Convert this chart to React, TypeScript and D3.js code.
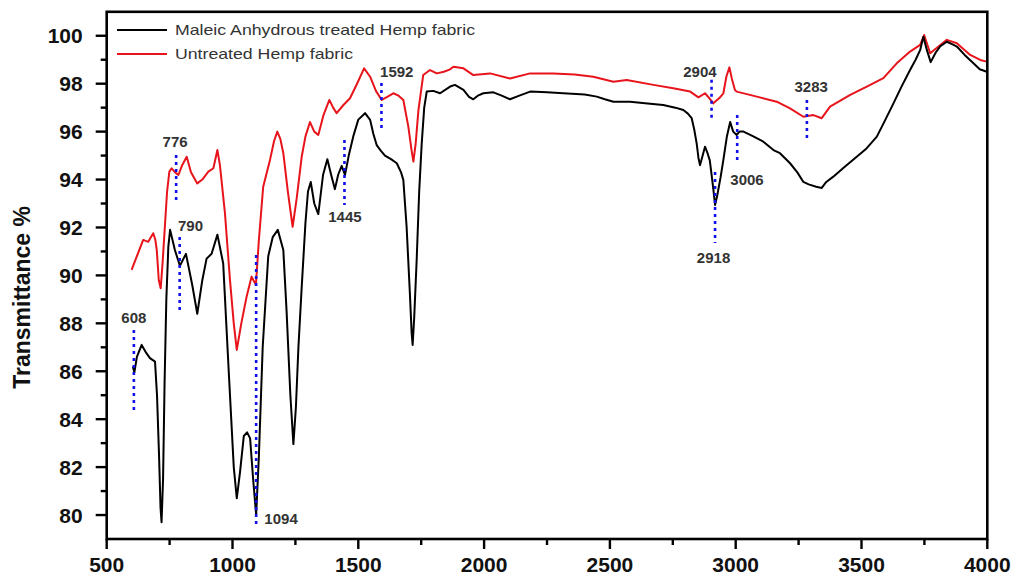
import React from "react";
import * as d3 from "d3";

// ---------- data ----------
const treatedWn = [604, 610, 620, 639, 655, 672, 692, 700, 708, 714, 718, 724, 730, 737, 745, 752, 771, 791, 815, 840, 860, 880, 897, 917, 940, 963, 985, 1005, 1017, 1030, 1045, 1058, 1070, 1082, 1094, 1105, 1120, 1142, 1160, 1180, 1202, 1215, 1230, 1242, 1252, 1262, 1275, 1290, 1300, 1311, 1325, 1341, 1360, 1377, 1392, 1407, 1420, 1434, 1447, 1462, 1480, 1500, 1527, 1547, 1560, 1573, 1590, 1606, 1630, 1653, 1670, 1679, 1692, 1705, 1712, 1716, 1722, 1732, 1742, 1752, 1762, 1772, 1798, 1825, 1865, 1884, 1918, 1940, 1957, 1975, 1997, 2037, 2070, 2103, 2140, 2183, 2250, 2315, 2400, 2448, 2480, 2514, 2580, 2650, 2712, 2760, 2792, 2810, 2825, 2835, 2845, 2852, 2858, 2866, 2878, 2888, 2897, 2910, 2918, 2926, 2940, 2951, 2965, 2978, 2990, 3004, 3015, 3031, 3070, 3110, 3150, 3176, 3216, 3245, 3269, 3290, 3320, 3342, 3360, 3388, 3430, 3481, 3520, 3561, 3595, 3627, 3660, 3693, 3715, 3733, 3746, 3760, 3775, 3795, 3812, 3839, 3860, 3879, 3910, 3945, 3970, 3998];
const treatedT = [86.2, 85.95, 86.6, 87.1, 86.8, 86.55, 86.4, 85.0, 82.5, 80.3, 79.7, 81.5, 85.5, 89.0, 91.2, 91.9, 91.06, 90.4, 90.9, 89.6, 88.4, 89.8, 90.7, 90.9, 91.7, 90.5, 86.0, 82.0, 80.7, 81.8, 83.3, 83.45, 83.2, 81.5, 80.0, 82.5, 87.0, 90.8, 91.6, 91.9, 91.06, 88.5, 85.0, 82.96, 84.5, 87.0, 89.5, 92.2, 93.5, 93.9, 93.0, 92.56, 94.2, 94.85, 94.2, 93.6, 94.2, 94.57, 94.19, 95.0, 95.8, 96.5, 96.77, 96.49, 95.9, 95.44, 95.2, 95.0, 94.85, 94.68, 94.3, 93.98, 92.03, 89.25, 87.6, 87.1, 88.2, 90.64, 93.5, 95.5, 97.0, 97.67, 97.7, 97.6, 97.88, 97.95, 97.74, 97.45, 97.35, 97.5, 97.6, 97.64, 97.5, 97.35, 97.5, 97.67, 97.64, 97.6, 97.55, 97.46, 97.35, 97.25, 97.25, 97.17, 97.11, 97.0, 96.9, 96.75, 96.56, 96.1, 95.5, 94.9, 94.6, 94.9, 95.37, 95.1, 94.8, 93.7, 92.94, 93.3, 94.1, 94.82, 95.8, 96.4, 96.0, 95.86, 96.0, 96.0, 95.8, 95.58, 95.23, 95.1, 94.68, 94.3, 93.9, 93.8, 93.7, 93.65, 93.9, 94.12, 94.5, 94.95, 95.3, 95.79, 96.5, 97.18, 97.9, 98.57, 99.0, 99.4, 99.96, 99.4, 98.9, 99.3, 99.55, 99.75, 99.65, 99.55, 99.2, 98.85, 98.6, 98.5];

const untreatedWn = [599, 620, 645, 665, 685, 693, 699, 707, 714.6, 722, 732, 740, 749, 758, 772, 785, 800, 818, 835, 860, 880, 904, 924, 940, 950, 970, 990, 1005, 1017, 1035, 1056, 1076, 1093, 1105, 1122, 1149, 1165, 1178, 1190, 1202, 1220, 1239, 1255, 1275, 1290, 1308, 1325, 1341, 1362, 1385, 1400, 1414, 1440, 1467, 1495, 1523, 1547, 1570, 1593, 1615, 1639, 1660, 1679, 1699, 1712, 1719, 1728, 1739, 1758, 1785, 1812, 1840, 1865, 1878, 1918, 1957, 2024, 2103, 2183, 2275, 2360, 2434, 2514, 2567, 2673, 2752, 2819, 2852, 2878, 2895, 2911, 2935, 2951, 2963, 2975, 2985, 2997, 3004, 3084, 3163, 3216, 3269, 3309, 3342, 3375, 3455, 3521, 3587, 3640, 3693, 3733, 3749, 3773, 3806, 3839, 3879, 3932, 3972, 3998];
const untreatedT = [90.23, 90.8, 91.48, 91.4, 91.76, 91.5, 91.06, 89.8, 89.46, 90.5, 92.17, 93.5, 94.33, 94.47, 94.3, 94.19, 94.6, 94.95, 94.3, 93.84, 94.0, 94.33, 94.47, 95.23, 94.6, 92.6, 89.8, 88.0, 86.89, 88.0, 89.11, 89.95, 89.6, 91.5, 93.7, 94.82, 95.6, 96.0, 95.7, 95.1, 93.5, 92.03, 93.2, 94.95, 95.8, 96.4, 96.0, 95.86, 96.7, 97.32, 97.0, 96.77, 97.1, 97.39, 98.0, 98.64, 98.29, 97.7, 97.32, 97.45, 97.6, 97.5, 97.32, 96.2, 95.2, 94.75, 95.5, 96.9, 98.36, 98.57, 98.43, 98.5, 98.6, 98.71, 98.64, 98.36, 98.43, 98.22, 98.43, 98.43, 98.38, 98.29, 98.08, 98.15, 97.95, 97.81, 97.67, 97.43, 97.6, 97.4, 97.18, 97.4, 97.6, 98.3, 98.68, 98.2, 97.74, 97.67, 97.46, 97.25, 96.97, 96.62, 96.69, 96.56, 97.04, 97.53, 97.88, 98.23, 98.85, 99.34, 99.62, 100.03, 99.27, 99.55, 99.83, 99.69, 99.2, 98.99, 98.92];

const seriesNames = ["Maleic Anhydrous treated Hemp fabric", "Untreated Hemp fabric"];

// annotation: label, wavenumber of dotted line, T range of line, label anchor (wn, T)
const annLabels = ["608", "776", "790", "1094", "1445", "1592", "2904", "2918", "3006", "3283"];
const annWn = [608, 776, 790, 1094, 1445, 1592, 2904, 2918, 3006, 3283];
const annTop = [87.72, 95.02, 91.6, 90.85, 95.65, 98.03, 98.16, 94.32, 96.69, 97.32];
const annBottom = [84.34, 93.06, 88.56, 79.58, 92.94, 96.07, 96.57, 91.35, 94.73, 95.73];
const annLabelWn = [608, 772, 833, 1193, 1447, 1653, 2858, 2912, 3045, 3300];
const annLabelT = [88.22, 95.57, 92.06, 79.87, 92.44, 98.49, 98.49, 90.73, 93.98, 97.86];

const xMajor = [500, 1000, 1500, 2000, 2500, 3000, 3500, 4000];
const xMinor = [750, 1250, 1750, 2250, 2750, 3250, 3750];
const yMajor = [80, 82, 84, 86, 88, 90, 92, 94, 96, 98, 100];
const yMinor = [81, 83, 85, 87, 89, 91, 93, 95, 97, 99];

export default function App() {
  const W = 1026, H = 579;
  const x = d3.scaleLinear().domain([500, 4000]).range([106.7, 987.3]);
  const y = d3.scaleLinear().domain([79, 101]).range([539, 11.8]);
  const line = d3.line<[number, number]>().x(d => x(d[0])).y(d => y(d[1]));
  const treated = treatedWn.map((w, i) => [w, treatedT[i]] as [number, number]);
  const untreated = untreatedWn.map((w, i) => [w, untreatedT[i]] as [number, number]);
  const [x0, x1] = x.range();
  const [y0, y1] = y.range();
  const font = "'Liberation Sans', Arial, sans-serif";

  return (
    <svg width={W} height={H} style={{ position: "absolute", left: 0, top: 0, background: "#fff" }} fontFamily={font}>
      <rect x={0} y={0} width={W} height={H} fill="#fff" />
      {/* curves */}
      <path d={line(untreated) || ""} fill="none" stroke="#e8141b" strokeWidth={2} strokeLinejoin="round" />
      <path d={line(treated) || ""} fill="none" stroke="#000" strokeWidth={2} strokeLinejoin="round" />

      {/* annotations */}
      {annLabels.map((lab, i) => (
        <g key={lab}>
          <line x1={x(annWn[i])} x2={x(annWn[i])} y1={y(annTop[i])} y2={y(annBottom[i])}
            stroke="#1010e8" strokeWidth={2.6} strokeDasharray="3,4" />
          <text x={x(annLabelWn[i])} y={y(annLabelT[i])} dy="0.36em" textAnchor="middle"
            fontSize={15} fontWeight="bold" fill="#333">{lab}</text>
        </g>
      ))}

      {/* frame */}
      <rect x={x0} y={y1} width={x1 - x0} height={y0 - y1} fill="none" stroke="#000" strokeWidth={2.6} />

      {/* x ticks */}
      {xMajor.map(v => (
        <g key={"xm" + v}>
          <line x1={x(v)} x2={x(v)} y1={y0} y2={y0 + 10} stroke="#000" strokeWidth={2.4} />
          <text x={x(v)} y={y0 + 33} textAnchor="middle" fontSize={21} fontWeight="bold" fill="#111">{v}</text>
        </g>
      ))}
      {xMinor.map(v => (
        <line key={"xn" + v} x1={x(v)} x2={x(v)} y1={y0} y2={y0 + 6} stroke="#000" strokeWidth={2.4} />
      ))}

      {/* y ticks */}
      {yMajor.map(v => (
        <g key={"ym" + v}>
          <line x1={x0 - 11} x2={x0} y1={y(v)} y2={y(v)} stroke="#000" strokeWidth={2.4} />
          <text x={x0 - 24} y={y(v)} dy="0.36em" textAnchor="end" fontSize={21} fontWeight="bold" fill="#111">{v}</text>
        </g>
      ))}
      {yMinor.map(v => (
        <line key={"yn" + v} x1={x0 - 6} x2={x0} y1={y(v)} y2={y(v)} stroke="#000" strokeWidth={2.4} />
      ))}

      {/* y title */}
      <text transform={`translate(30, ${(y0 + y1) / 2 + 22}) rotate(-90)`} textAnchor="middle"
        fontSize={23} fontWeight="bold" fill="#111">Transmittance %</text>

      {/* legend */}
      <line x1={117} x2={167} y1={30} y2={30} stroke="#000" strokeWidth={2} />
      <text x={175} y={30} dy="0.36em" fontSize={15} fill="#333" textLength={300} lengthAdjust="spacingAndGlyphs">{seriesNames[0]}</text>
      <line x1={117} x2={167} y1={54} y2={54} stroke="#e8141b" strokeWidth={2} />
      <text x={175} y={54} dy="0.36em" fontSize={15} fill="#333" textLength={178} lengthAdjust="spacingAndGlyphs">{seriesNames[1]}</text>
    </svg>
  );
}
